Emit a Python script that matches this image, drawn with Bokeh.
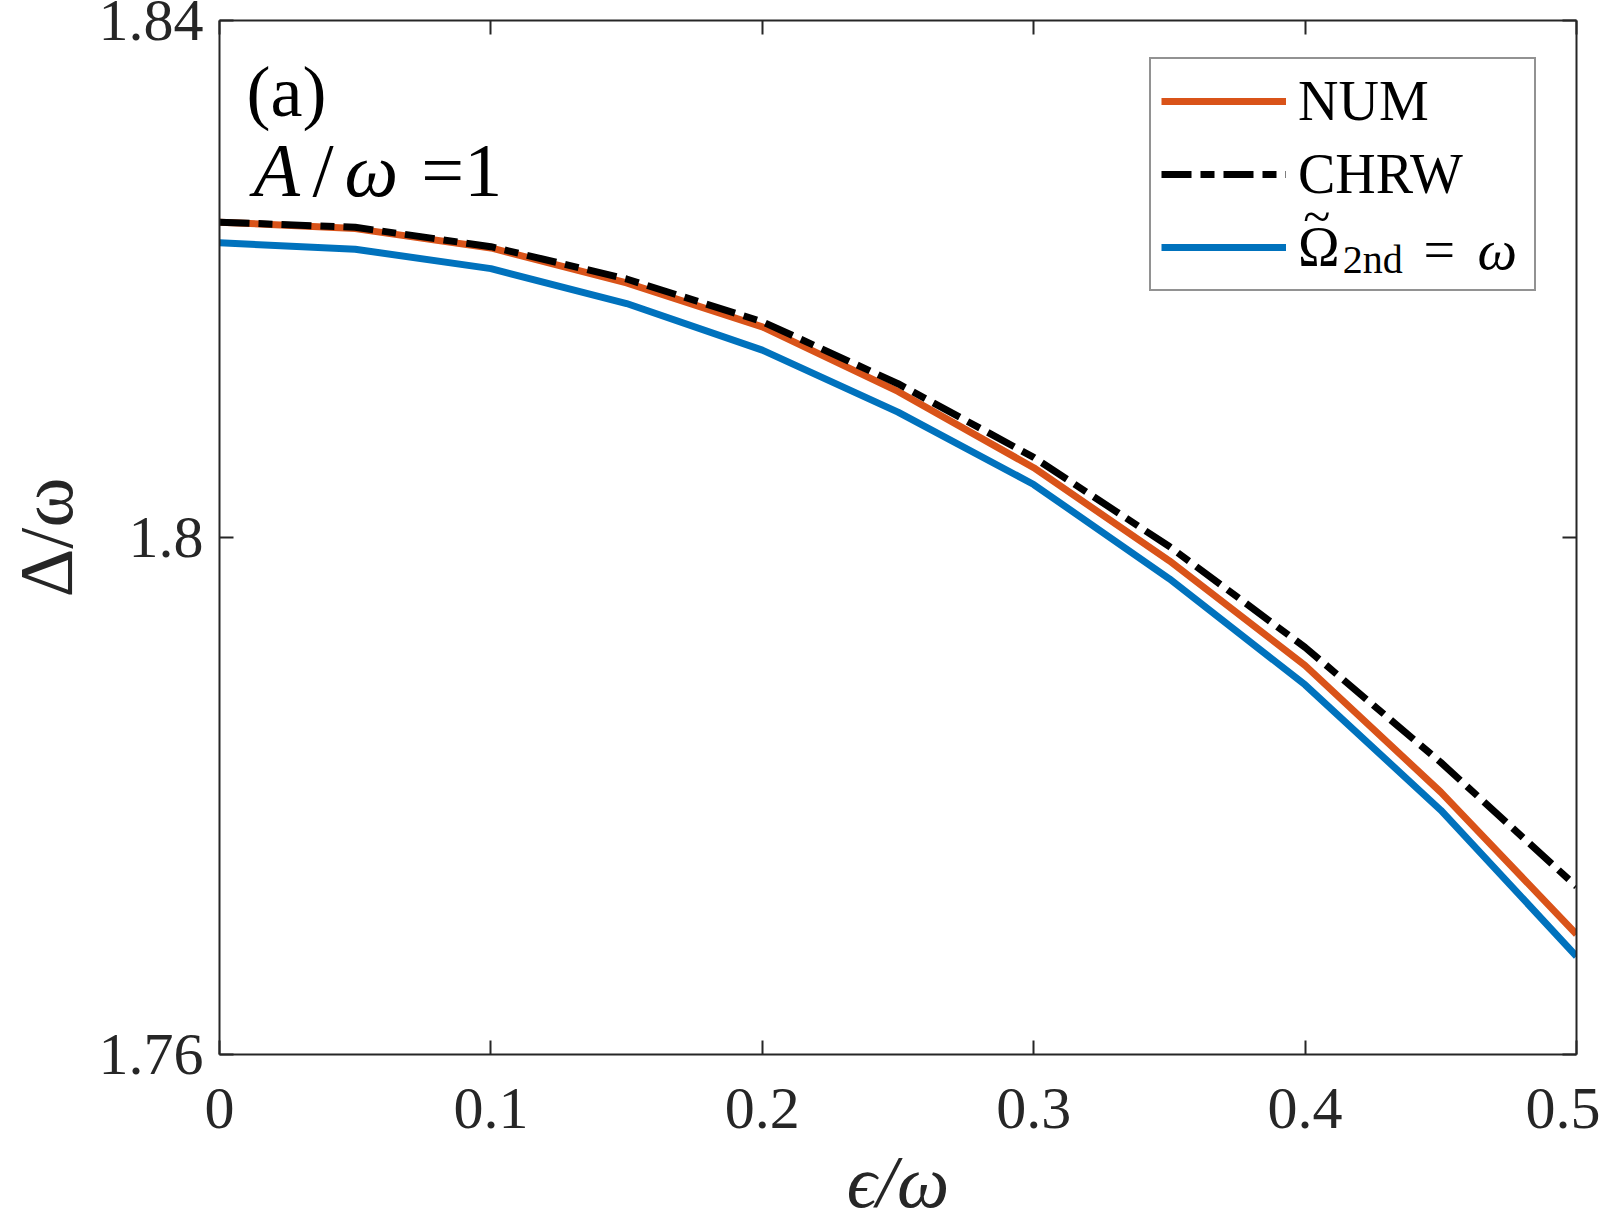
import math
from bokeh.plotting import figure
from bokeh.models import (Range1d, FixedTicker, LinearAxis, Legend, LegendItem,
                          Label, CustomJSTickFormatter)
from bokeh.embed import file_html
from bokeh.resources import INLINE

# ---- data ----
eps = [0.0, 0.05, 0.1, 0.15, 0.2, 0.25, 0.3, 0.35, 0.4, 0.45, 0.5]
num = [1.8244, 1.8239, 1.8224, 1.8197, 1.8163, 1.8113, 1.8054, 1.7982, 1.7901, 1.7803, 1.7693]
chrw = [1.8244, 1.8240, 1.8225, 1.8200, 1.8167, 1.8119, 1.8062, 1.7993, 1.7915, 1.7826, 1.7730]
omega2nd = [1.8228, 1.8223, 1.8208, 1.8181, 1.8145, 1.8097, 1.8041, 1.7968, 1.7886, 1.7789, 1.7676]

x_ticks = [0, 0.1, 0.2, 0.3, 0.4, 0.5]
x_tick_labels = ["0", "0.1", "0.2", "0.3", "0.4", "0.5"]
y_ticks = [1.76, 1.8, 1.84]
y_tick_labels = ["1.76", "1.8", "1.84"]

FONT = "Liberation Serif"
AX = "#262626"
ORANGE = "#D95319"
BLUE = "#0072BD"

X0, X1, Y0, Y1 = 0.0, 0.5, 1.76, 1.84
FL, FT, FR, FB = 218, 20, 1576, 1055   # frame edges in page pixels

p = figure(width=1600, height=1225, output_backend="svg", toolbar_location=None,
           x_range=Range1d(X0, X1), y_range=Range1d(Y0, Y1),
           min_border_left=FL, min_border_right=1600 - FR, min_border_top=FT,
           min_border_bottom=1225 - FB)
p.outline_line_color = None
p.xgrid.visible = False
p.ygrid.visible = False
p.background_fill_color = "white"

r_blue = p.line(eps, omega2nd, line_color=BLUE, line_width=7)
r_num = p.line(eps, num, line_color=ORANGE, line_width=7)
r_chrw = p.line(eps, chrw, line_color="black", line_width=7, line_dash="30 9 14 9")

def style_axis(ax, ticks, labels):
    ax.ticker = FixedTicker(ticks=ticks)
    ax.major_label_overrides = {t: l for t, l in zip(ticks, labels)}
    ax.minor_tick_line_color = None
    ax.major_tick_in = 14
    ax.major_tick_out = 0
    ax.major_tick_line_color = AX
    ax.major_tick_line_width = 2
    ax.axis_line_color = AX
    ax.axis_line_width = 2
    ax.major_label_text_font = FONT
    ax.major_label_text_font_size = "60px"
    ax.major_label_text_color = AX
    ax.axis_label_text_font = FONT
    ax.axis_label_text_color = AX

xa = p.xaxis[0]
style_axis(xa, x_ticks, x_tick_labels)
xa.major_label_standoff = 34
xa.axis_label = "ϵ/ω"
xa.axis_label_text_font_size = "74px"
xa.axis_label_text_font_style = "italic"
xa.axis_label_standoff = 10

ya = p.yaxis[0]
style_axis(ya, y_ticks, y_tick_labels)
ya.major_label_standoff = 16
ya.axis_label = "Δ/ω"
ya.axis_label_text_font_size = "76px"
ya.axis_label_text_font_style = "normal"
ya.axis_label_standoff = 8

blank = CustomJSTickFormatter(code="return ''")
for loc, ticks in (("above", x_ticks), ("right", y_ticks)):
    ax = LinearAxis(ticker=FixedTicker(ticks=ticks), formatter=blank)
    ax.minor_tick_line_color = None
    ax.major_tick_in = 14
    ax.major_tick_out = 0
    ax.major_tick_line_color = AX
    ax.major_tick_line_width = 2
    ax.axis_line_color = AX
    ax.axis_line_width = 2
    ax.major_label_text_font_size = "1px"
    ax.major_label_standoff = 0
    p.add_layout(ax, loc)

legend = Legend(items=[
    LegendItem(label="NUM", renderers=[r_num]),
    LegendItem(label="CHRW", renderers=[r_chrw]),
    LegendItem(label="Ω", renderers=[r_blue]),
], location=(930, 763))
legend.margin = 0
legend.padding = 10
legend.glyph_width = 125
legend.glyph_height = 60
legend.label_height = 60
legend.spacing = 9
legend.label_standoff = 12
legend.label_width = 226
legend.label_text_font = FONT
legend.label_text_font_size = "56px"
legend.label_text_color = "black"
legend.border_line_color = AX
legend.border_line_width = 2
legend.background_fill_alpha = 0
p.add_layout(legend)

def ypx(py):
    return Y1 - (py - FT) * (Y1 - Y0) / (FB - FT)

def xpx(px):
    return X0 + (px - FL) * (X1 - X0) / (FR - FL)

def lab(px, py, text, size, style="normal", align="left"):
    p.add_layout(Label(x=xpx(px), y=ypx(py), text=text, text_font=FONT,
                       text_font_size=size, text_font_style=style, text_color="black",
                       text_align=align, text_baseline="middle"))

# third legend entry: tilde, subscript and "= ω"
lab(1316, 216, "~", "50px", align="center")
lab(1342, 259, "2nd", "40px")
lab(1423, 250, "=", "56px")
lab(1477, 250, "ω", "56px", style="italic")

# panel annotations
lab(245, 92, "(a)", "72px")
lab(252, 170, "A", "76px", style="italic")
lab(311, 170, "/", "76px")
lab(343, 170, "ω", "76px", style="italic")
lab(420, 170, "=1", "76px")

open("out.html", "w").write(file_html(p, INLINE))
